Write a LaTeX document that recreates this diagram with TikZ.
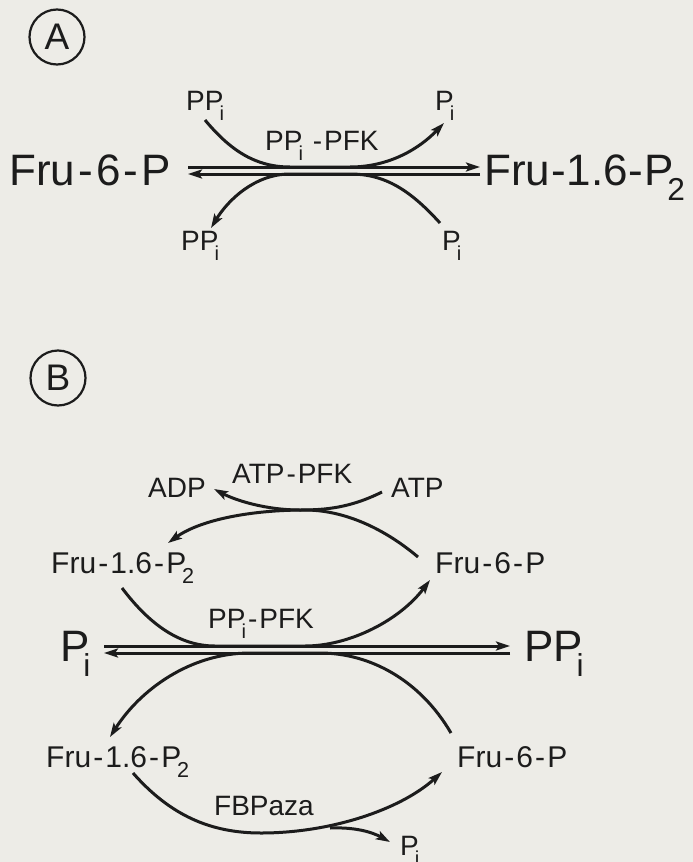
\documentclass[tikz,border=0pt]{standalone}
\usepackage{fontspec}
\setmainfont{Liberation Sans}
\usetikzlibrary{arrows.meta}
\definecolor{paper}{RGB}{237,236,231}
\definecolor{ink}{RGB}{28,28,28}
\newcommand{\sbi}[1]{\kern-0.14em\raisebox{-0.36em}{\scalebox{0.72}{#1}}}
\newcommand{\hy}{\kern0.07em-\kern0.07em}
\newcommand{\hyn}{\kern0.02em-\kern0.02em}
\tikzset{
 lbl/.style={anchor=base west, inner sep=0pt, text=ink},
 big/.style={lbl, font=\fontsize{44}{48}\selectfont},
 med/.style={lbl, font=\fontsize{28}{31}\selectfont},
 mid/.style={lbl, font=\fontsize{30}{33}\selectfont},
 circ/.style={circle, draw=ink, line width=2.2pt, minimum size=55pt, inner sep=0pt, font=\fontsize{37}{40}\selectfont, text=ink},
 ln/.style={draw=ink, line width=3pt},
 arr/.style={ln, -{Stealth[length=14pt,width=9pt,inset=3pt]}},
}
\begin{document}
\begin{tikzpicture}[x=1pt,y=-1pt]
\fill[paper] (0,0) rectangle (693,862);
\useasboundingbox (0,0) rectangle (693,862);
% ---------- Panel A ----------
\node[circ] (cA) at (57,37) {A};
\node[big] (f6a) at (9,185) {Fru\hy6\hy P};
\node[big] (f16a) at (484,185) {Fru\hyn1.6\hyn P\sbi{2}};
\node[med] (ppiTA) at (186,110) {PP\sbi{i}};
\node[med] (piTA) at (435,110) {P\sbi{i}};
\node[med] (enzA) at (265,150) {PP\sbi{i} \hy PFK};
\node[med] (ppiBA) at (181,250) {PP\sbi{i}};
\node[med] (piBA) at (442,250) {P\sbi{i}};
\coordinate (aL1) at (188,167); \coordinate (aR1) at (480,167);
\coordinate (aL2) at (188,174); \coordinate (aR2) at (480,174);
\draw[arr] (aL1) -- (aR1);
\draw[arr] (aR2) -- (aL2);
\coordinate (ta1) at (205,120); \coordinate (ta2) at (444,123);
\draw[arr] (ta1) .. controls (230,150) and (255,167) .. (290,167) -- (350,167) .. controls (390,167) and (420,148) .. (ta2);
\coordinate (ba1) at (440,223); \coordinate (ba2) at (211,228);
\draw[arr] (ba1) .. controls (410,190) and (385,174) .. (350,174) -- (290,174) .. controls (255,174) and (228,200) .. (ba2);
% ---------- Panel B ----------
\node[circ] (cB) at (58,378) {B};
\node[med] (adp) at (148,497) {ADP};
\node[med] (enzATP) at (232,483) {ATP\hy PFK};
\node[med] (atp) at (391,497) {ATP};
\node[mid] (f16u) at (51,573) {Fru\hy1.6\hy P\sbi{2}};
\node[mid] (f6u) at (435,573) {Fru\hy6\hy P};
\node[med] (enzPP) at (208,628) {PP\sbi{i}\hy PFK};
\node[big] (piM) at (60,661) {P\sbi{i}};
\node[big] (ppiM) at (524,661) {PP\sbi{i}};
\node[mid] (f16l) at (46,767) {Fru\hy1.6\hy P\sbi{2}};
\node[mid] (f6l) at (457,767) {Fru\hy6\hy P};
\node[med] (fbp) at (214,815) {FBPaza};
\node[med] (piL) at (400,855) {P\sbi{i}};
% ATP-PFK
\coordinate (atpS) at (382,492); \coordinate (adpE) at (214,489);
\draw[arr] (atpS) .. controls (350,508) and (325,510) .. (300,510) .. controls (265,510) and (235,500) .. (adpE);
\coordinate (f6uS) at (418,557); \coordinate (f16uE) at (168,543);
\draw[arr] (f6uS) .. controls (380,525) and (340,510) .. (305,510) .. controls (250,510) and (200,520) .. (f16uE);
% PPi-PFK
\coordinate (f16uS) at (122,588); \coordinate (f6uE) at (430,580);
\draw[arr] (f16uS) .. controls (150,625) and (180,646) .. (215,646) -- (305,646) .. controls (350,646) and (400,620) .. (f6uE);
\coordinate (bL1) at (104,646); \coordinate (bR1) at (510,646);
\coordinate (bL2) at (104,653); \coordinate (bR2) at (510,653);
\draw[arr] (bL1) -- (bR1);
\draw[arr] (bR2) -- (bL2);
\coordinate (f6lS) at (451,733); \coordinate (f16lE) at (110,737);
\draw[arr] (f6lS) .. controls (420,680) and (370,653) .. (320,653) -- (250,653) .. controls (190,653) and (140,690) .. (f16lE);
% FBPaza
\coordinate (f16lS) at (133,773); \coordinate (f6lE) at (442,772);
\draw[arr] (f16lS) .. controls (170,815) and (210,833) .. (261,833) .. controls (330,833) and (400,810) .. (f6lE);
\coordinate (brS) at (330,828); \coordinate (piLE) at (390,842);
\draw[arr] (brS) .. controls (355,827) and (372,832) .. (piLE);
\end{tikzpicture}
\end{document}
